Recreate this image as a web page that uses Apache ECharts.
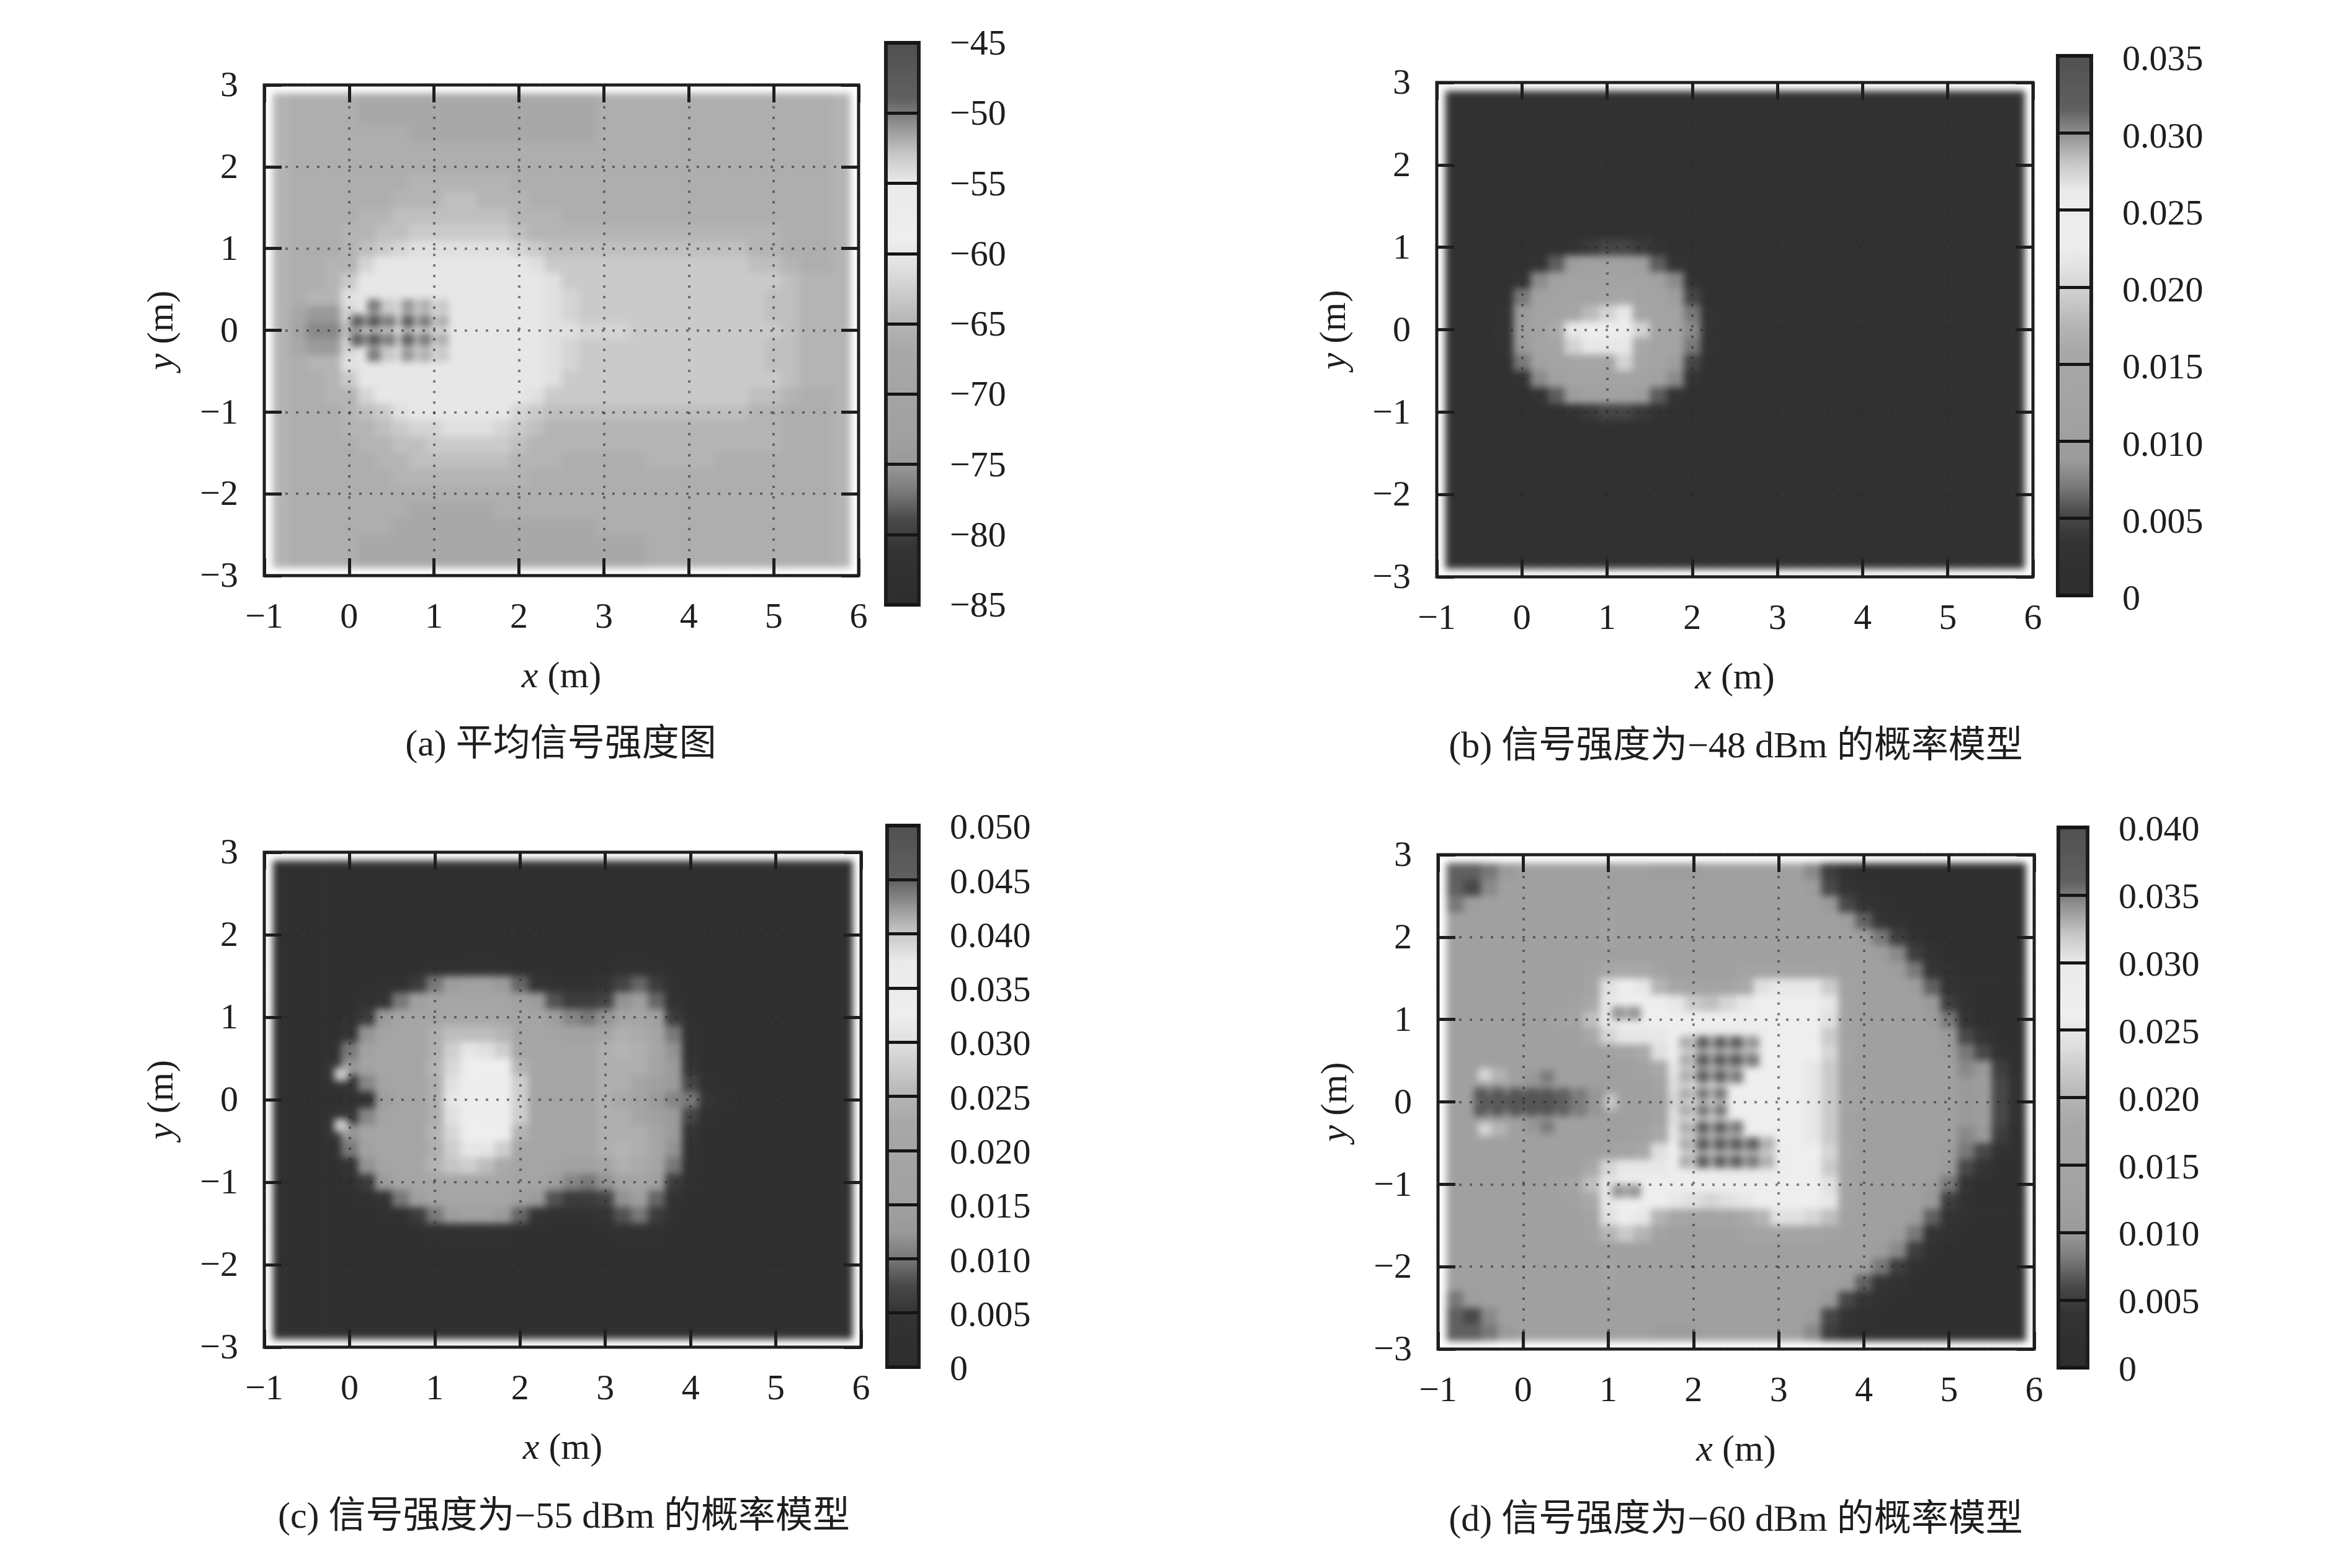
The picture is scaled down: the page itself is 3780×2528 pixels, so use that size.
<!DOCTYPE html>
<html><head><meta charset="utf-8">
<script src="https://cdn.jsdelivr.net/npm/echarts@6/dist/echarts.min.js"></script>
<style>html,body{margin:0;padding:0;background:#fff}#c{width:3780px;height:2528px}</style>
</head><body><div id="c"></div>
<script>
const xCenters = [-0.8,-0.6,-0.4,-0.2,0,0.2,0.4,0.6,0.8,1,1.2,1.4,1.6,1.8,2,2.2,2.4,2.6,2.8,3,3.2,3.4,3.6,3.8,4,4.2,4.4,4.6,4.8,5,5.2,5.4,5.6,5.8];
const yCenters = [2.8,2.6,2.4,2.2,2,1.8,1.6,1.4,1.2,1,0.8,0.6,0.4,0.2,0,-0.2,-0.4,-0.6,-0.8,-1,-1.2,-1.4,-1.6,-1.8,-2,-2.2,-2.4,-2.6,-2.8];

// (a) mean signal strength, dBm
const avgRows = [
[-65,-66,-66,-66,-66,-67,-67,-67,-67,-67,-67,-67,-67,-67,-67,-67,-67,-67,-67,-66,-66,-66,-66,-66,-66,-66,-66,-66,-66,-66,-66,-66,-66,-65],
[-65,-66,-66,-66,-66,-67,-67,-67,-67,-67,-67,-67,-67,-67,-67,-67,-67,-67,-67,-66,-66,-66,-66,-66,-66,-66,-66,-66,-66,-66,-66,-66,-66,-65],
[-65,-66,-66,-66,-66,-66,-66,-66,-67,-67,-67,-67,-67,-67,-67,-67,-67,-67,-67,-66,-66,-66,-66,-66,-66,-66,-66,-66,-66,-66,-66,-66,-66,-65],
[-65,-66,-66,-66,-66,-66,-66,-66,-66,-66,-66,-66,-66,-66,-66,-66,-66,-66,-66,-66,-66,-66,-66,-66,-66,-66,-66,-66,-66,-66,-66,-66,-66,-65],
[-65,-66,-66,-66,-66,-66,-66,-66,-66,-66,-66,-66,-66,-66,-66,-66,-66,-66,-66,-66,-66,-66,-66,-66,-66,-66,-66,-66,-66,-66,-66,-66,-66,-65],
[-65,-66,-66,-66,-66,-66,-66,-66,-65,-65,-65,-65,-65,-65,-66,-66,-66,-66,-66,-66,-66,-66,-66,-66,-66,-66,-66,-66,-66,-66,-66,-66,-66,-65],
[-65,-66,-66,-66,-66,-66,-66,-65,-65,-65,-64,-64,-65,-65,-65,-66,-66,-66,-66,-66,-66,-66,-66,-66,-66,-66,-66,-66,-66,-66,-66,-66,-66,-65],
[-65,-66,-66,-66,-66,-65,-65,-64,-64,-64,-64,-64,-64,-64,-65,-65,-65,-66,-66,-66,-66,-66,-66,-66,-66,-66,-66,-66,-66,-66,-66,-66,-66,-65],
[-65,-66,-66,-66,-65,-65,-64,-64,-63,-63,-63,-63,-63,-63,-64,-65,-65,-65,-65,-65,-65,-65,-65,-65,-65,-65,-65,-65,-65,-65,-66,-66,-66,-65],
[-65,-66,-66,-66,-65,-64,-63,-62,-61,-61,-61,-61,-61,-61,-62,-63,-64,-64,-64,-64,-64,-64,-64,-64,-64,-64,-64,-64,-65,-65,-66,-66,-66,-65],
[-65,-66,-66,-65,-65,-62,-60,-60,-60,-60,-60,-60,-60,-60,-60,-61,-63,-63,-63,-63,-63,-63,-63,-63,-63,-63,-63,-63,-64,-64,-65,-66,-66,-65],
[-65,-66,-66,-65,-63,-60,-60,-60,-60,-60,-60,-60,-60,-60,-60,-60,-61,-63,-63,-63,-63,-63,-63,-63,-63,-63,-63,-63,-63,-63,-64,-65,-65,-65],
[-65,-66,-65,-65,-61,-60,-60,-60,-60,-60,-60,-60,-60,-60,-60,-60,-61,-62,-63,-63,-63,-63,-63,-63,-63,-63,-63,-63,-63,-64,-64,-65,-65,-65],
[-65,-68,-75,-75,-62,-60,-60,-60,-60,-60,-60,-60,-60,-60,-60,-60,-61,-62,-63,-63,-63,-63,-63,-63,-63,-63,-63,-63,-63,-64,-64,-65,-65,-65],
[-65,-70,-76,-76,-64,-60,-60,-60,-60,-60,-60,-60,-60,-60,-60,-60,-61,-61,-62,-62,-62,-63,-63,-63,-63,-63,-63,-63,-63,-63,-64,-65,-65,-65],
[-65,-68,-75,-75,-62,-60,-60,-60,-60,-60,-60,-60,-60,-60,-60,-60,-61,-62,-63,-63,-63,-63,-63,-63,-63,-63,-63,-63,-63,-64,-64,-65,-65,-65],
[-65,-66,-65,-65,-61,-60,-60,-60,-60,-60,-60,-60,-60,-60,-60,-60,-61,-62,-63,-63,-63,-63,-63,-63,-63,-63,-63,-63,-63,-64,-64,-65,-65,-65],
[-65,-66,-66,-65,-63,-60,-60,-60,-60,-60,-60,-60,-60,-60,-60,-60,-61,-63,-63,-63,-63,-63,-63,-63,-63,-63,-63,-63,-63,-63,-64,-65,-65,-65],
[-65,-66,-66,-65,-65,-62,-60,-60,-60,-60,-60,-60,-60,-60,-60,-61,-63,-63,-63,-63,-63,-63,-63,-63,-63,-63,-63,-63,-64,-64,-65,-66,-66,-65],
[-65,-66,-66,-66,-65,-64,-63,-61,-60,-60,-60,-60,-60,-60,-62,-63,-64,-64,-64,-64,-64,-64,-64,-64,-64,-64,-64,-64,-65,-65,-66,-66,-66,-65],
[-65,-66,-66,-66,-65,-65,-64,-63,-62,-62,-61,-61,-61,-62,-63,-64,-65,-65,-65,-65,-65,-65,-65,-65,-65,-65,-65,-65,-65,-65,-66,-66,-66,-65],
[-65,-66,-66,-66,-66,-65,-65,-64,-64,-63,-63,-63,-63,-63,-64,-65,-65,-65,-65,-65,-65,-65,-65,-65,-65,-65,-65,-65,-65,-65,-66,-66,-66,-65],
[-65,-66,-66,-66,-66,-66,-65,-65,-64,-64,-64,-64,-64,-64,-65,-65,-65,-66,-66,-66,-66,-66,-65,-65,-65,-65,-66,-66,-66,-66,-66,-66,-66,-65],
[-65,-66,-66,-66,-66,-66,-66,-65,-65,-65,-65,-65,-65,-65,-65,-66,-66,-66,-66,-66,-66,-66,-66,-66,-66,-66,-66,-66,-66,-66,-66,-66,-66,-65],
[-65,-66,-66,-66,-66,-66,-66,-66,-66,-66,-66,-66,-66,-66,-66,-66,-66,-66,-66,-66,-66,-66,-66,-66,-66,-66,-66,-66,-66,-66,-66,-66,-66,-65],
[-65,-66,-66,-66,-66,-66,-66,-66,-67,-67,-67,-67,-67,-66,-66,-66,-66,-66,-66,-66,-66,-66,-66,-66,-66,-66,-66,-66,-66,-66,-66,-66,-66,-65],
[-65,-66,-66,-66,-66,-66,-66,-67,-67,-67,-67,-67,-67,-67,-67,-67,-67,-67,-67,-66,-66,-66,-66,-66,-66,-66,-66,-66,-66,-66,-66,-66,-66,-65],
[-65,-66,-66,-66,-66,-67,-67,-67,-67,-67,-67,-67,-67,-67,-67,-67,-67,-67,-67,-67,-67,-67,-66,-66,-66,-66,-66,-66,-66,-66,-66,-66,-66,-65],
[-65,-66,-66,-66,-66,-67,-67,-67,-67,-67,-67,-67,-67,-67,-67,-67,-67,-67,-67,-67,-67,-67,-66,-66,-66,-66,-66,-66,-66,-66,-66,-66,-66,-65]
];
const avgSpots = [
[0.1,0.11,-49],[0.1,-0.11,-49],
[0.29,0.3,-50],[0.29,0.11,-47],[0.29,-0.11,-47],[0.29,-0.3,-50],
[0.47,0.3,-53],[0.47,0.11,-50],[0.47,-0.11,-50],[0.47,-0.3,-53],
[0.69,0.3,-51],[0.69,0.11,-49],[0.69,-0.11,-49],[0.69,-0.3,-51],
[0.89,0.3,-52],[0.89,0.11,-50],[0.89,-0.11,-50],[0.89,-0.3,-52],
[1.09,0.3,-53],[1.09,0.11,-52],[1.09,-0.11,-52],[1.09,-0.3,-53]
];

// (b) probability at -48 dBm, in units of 0.001
const p48Rows = [
[2,2,2,2,2,2,2,2,2,2,2,2,2,2,2,2,2,2,2,2,2,2,2,2,2,2,2,2,2,2,2,2,2,2],
[2,2,2,2,2,2,2,2,2,2,2,2,2,2,2,2,2,2,2,2,2,2,2,2,2,2,2,2,2,2,2,2,2,2],
[2,2,2,2,2,2,2,2,2,2,2,2,2,2,2,2,2,2,2,2,2,2,2,2,2,2,2,2,2,2,2,2,2,2],
[2,2,2,2,2,2,2,2,2,2,2,2,2,2,2,2,2,2,2,2,2,2,2,2,2,2,2,2,2,2,2,2,2,2],
[2,2,2,2,2,2,2,2,2,2,2,2,2,2,2,2,2,2,2,2,2,2,2,2,2,2,2,2,2,2,2,2,2,2],
[2,2,2,2,2,2,2,2,2,2,2,2,2,2,2,2,2,2,2,2,2,2,2,2,2,2,2,2,2,2,2,2,2,2],
[2,2,2,2,2,2,2,2,2,2,2,2,2,2,2,2,2,2,2,2,2,2,2,2,2,2,2,2,2,2,2,2,2,2],
[2,2,2,2,2,2,2,2,2,2,2,2,2,2,2,2,2,2,2,2,2,2,2,2,2,2,2,2,2,2,2,2,2,2],
[2,2,2,2,2,2,2,2,2,2,2,2,2,2,2,2,2,2,2,2,2,2,2,2,2,2,2,2,2,2,2,2,2,2],
[2,2,2,2,2,2,2,3,4,5,5,4,3,2,2,2,2,2,2,2,2,2,2,2,2,2,2,2,2,2,2,2,2,2],
[2,2,2,2,2,3,6,10,11,11,11,10,6,3,2,2,2,2,2,2,2,2,2,2,2,2,2,2,2,2,2,2,2,2],
[2,2,2,2,3,8,11,12,12,12,12,12,11,8,3,2,2,2,2,2,2,2,2,2,2,2,2,2,2,2,2,2,2,2],
[2,2,2,2,7,11,12,12,12,13,15,12,12,10,5,2,2,2,2,2,2,2,2,2,2,2,2,2,2,2,2,2,2,2],
[2,2,2,3,9,12,12,14,18,20,22,14,12,12,7,3,2,2,2,2,2,2,2,2,2,2,2,2,2,2,2,2,2,2],
[2,2,2,3,10,12,16,22,23,23,24,20,13,12,8,3,2,2,2,2,2,2,2,2,2,2,2,2,2,2,2,2,2,2],
[2,2,2,3,9,12,14,20,22,22,22,15,12,12,7,3,2,2,2,2,2,2,2,2,2,2,2,2,2,2,2,2,2,2],
[2,2,2,2,7,11,12,13,14,14,20,14,12,10,5,2,2,2,2,2,2,2,2,2,2,2,2,2,2,2,2,2,2,2],
[2,2,2,2,3,8,11,12,12,12,12,12,11,8,3,2,2,2,2,2,2,2,2,2,2,2,2,2,2,2,2,2,2,2],
[2,2,2,2,2,3,6,10,11,11,11,10,6,3,2,2,2,2,2,2,2,2,2,2,2,2,2,2,2,2,2,2,2,2],
[2,2,2,2,2,2,2,3,4,5,5,4,3,2,2,2,2,2,2,2,2,2,2,2,2,2,2,2,2,2,2,2,2,2],
[2,2,2,2,2,2,2,2,2,2,2,2,2,2,2,2,2,2,2,2,2,2,2,2,2,2,2,2,2,2,2,2,2,2],
[2,2,2,2,2,2,2,2,2,2,2,2,2,2,2,2,2,2,2,2,2,2,2,2,2,2,2,2,2,2,2,2,2,2],
[2,2,2,2,2,2,2,2,2,2,2,2,2,2,2,2,2,2,2,2,2,2,2,2,2,2,2,2,2,2,2,2,2,2],
[2,2,2,2,2,2,2,2,2,2,2,2,2,2,2,2,2,2,2,2,2,2,2,2,2,2,2,2,2,2,2,2,2,2],
[2,2,2,2,2,2,2,2,2,2,2,2,2,2,2,2,2,2,2,2,2,2,2,2,2,2,2,2,2,2,2,2,2,2],
[2,2,2,2,2,2,2,2,2,2,2,2,2,2,2,2,2,2,2,2,2,2,2,2,2,2,2,2,2,2,2,2,2,2],
[2,2,2,2,2,2,2,2,2,2,2,2,2,2,2,2,2,2,2,2,2,2,2,2,2,2,2,2,2,2,2,2,2,2],
[2,2,2,2,2,2,2,2,2,2,2,2,2,2,2,2,2,2,2,2,2,2,2,2,2,2,2,2,2,2,2,2,2,2],
[2,2,2,2,2,2,2,2,2,2,2,2,2,2,2,2,2,2,2,2,2,2,2,2,2,2,2,2,2,2,2,2,2,2]
];
const p48Spots = [];

// (c) probability at -55 dBm, in units of 0.001
const p55Rows = [
[2,2,2,2,2,2,2,2,2,2,2,2,2,2,2,2,2,2,2,2,2,2,2,2,2,2,2,2,2,2,2,2,2,2],
[2,2,2,2,2,2,2,2,2,2,2,2,2,2,2,2,2,2,2,2,2,2,2,2,2,2,2,2,2,2,2,2,2,2],
[2,2,2,2,2,2,2,2,2,2,2,2,2,2,2,2,2,2,2,2,2,2,2,2,2,2,2,2,2,2,2,2,2,2],
[2,2,2,2,2,2,2,2,2,2,2,2,2,2,2,2,2,2,2,2,2,2,2,2,2,2,2,2,2,2,2,2,2,2],
[2,2,2,2,2,2,2,2,2,2,2,2,2,2,2,2,2,2,2,2,2,2,2,2,2,2,2,2,2,2,2,2,2,2],
[2,2,2,2,2,2,2,2,2,2,2,2,2,2,2,2,2,2,2,2,2,2,2,2,2,2,2,2,2,2,2,2,2,2],
[2,2,2,2,2,2,2,2,2,3,3,4,4,3,2,2,2,2,2,2,4,4,3,2,2,2,2,2,2,2,2,2,2,2],
[2,2,2,2,2,2,3,3,6,10,14,16,16,13,9,5,4,4,4,5,7,9,6,3,2,2,2,2,2,2,2,2,2,2],
[2,2,2,2,2,3,5,10,15,19,20,20,20,20,16,13,8,6,6,7,12,14,9,4,2,2,2,2,2,2,2,2,2,2],
[2,2,2,2,3,6,13,19,20,20,22,22,22,21,20,19,14,11,10,12,18,20,15,6,3,2,2,2,2,2,2,2,2,2],
[2,2,2,2,5,12,19,20,20,24,26,26,26,25,20,20,19,17,16,20,24,23,19,10,3,2,2,2,2,2,2,2,2,2],
[2,2,2,3,10,17,20,20,20,24,28,31,30,28,21,20,20,20,20,24,25,24,21,12,3,2,2,2,2,2,2,2,2,2],
[2,2,2,5,12,18,20,20,20,25,29,33,33,33,25,20,20,20,20,24,24,24,19,13,5,2,2,2,2,2,2,2,2,2],
[2,2,2,4,5,11,18,20,20,24,30,33,34,34,28,20,20,20,20,24,24,20,15,13,7,3,2,2,2,2,2,2,2,2],
[2,2,2,2,3,4,14,20,20,24,31,34,34,34,28,20,20,20,20,24,22,18,13,11,10,5,3,2,2,2,2,2,2,2],
[2,2,2,4,5,11,18,20,20,24,30,33,34,34,28,20,20,20,20,24,24,20,15,13,7,3,2,2,2,2,2,2,2,2],
[2,2,2,5,12,18,20,20,20,25,29,33,33,33,25,20,20,20,20,24,24,24,19,13,5,2,2,2,2,2,2,2,2,2],
[2,2,2,3,10,17,20,20,20,24,28,31,31,28,21,20,20,20,20,24,25,24,21,12,3,2,2,2,2,2,2,2,2,2],
[2,2,2,2,5,12,19,20,21,25,27,28,26,23,20,20,19,17,16,20,24,23,19,10,3,2,2,2,2,2,2,2,2,2],
[2,2,2,2,3,6,13,19,20,20,22,22,22,21,20,19,14,11,10,12,18,20,15,6,3,2,2,2,2,2,2,2,2,2],
[2,2,2,2,2,3,5,10,15,19,20,20,20,20,16,13,8,6,6,7,12,14,9,4,2,2,2,2,2,2,2,2,2,2],
[2,2,2,2,2,2,3,3,6,10,14,16,16,13,9,5,4,4,4,5,8,10,6,3,2,2,2,2,2,2,2,2,2,2],
[2,2,2,2,2,2,2,2,2,3,3,4,4,3,2,2,2,2,2,2,4,4,3,2,2,2,2,2,2,2,2,2,2,2],
[2,2,2,2,2,2,2,2,2,2,2,2,2,2,2,2,2,2,2,2,2,2,2,2,2,2,2,2,2,2,2,2,2,2],
[2,2,2,2,2,2,2,2,2,2,2,2,2,2,2,2,2,2,2,2,2,2,2,2,2,2,2,2,2,2,2,2,2,2],
[2,2,2,2,2,2,2,2,2,2,2,2,2,2,2,2,2,2,2,2,2,2,2,2,2,2,2,2,2,2,2,2,2,2],
[2,2,2,2,2,2,2,2,2,2,2,2,2,2,2,2,2,2,2,2,2,2,2,2,2,2,2,2,2,2,2,2,2,2],
[2,2,2,2,2,2,2,2,2,2,2,2,2,2,2,2,2,2,2,2,2,2,2,2,2,2,2,2,2,2,2,2,2,2],
[2,2,2,2,2,2,2,2,2,2,2,2,2,2,2,2,2,2,2,2,2,2,2,2,2,2,2,2,2,2,2,2,2,2]
];
const p55Spots = [[-0.1,0.31,27],[-0.1,-0.31,27]];

// (d) probability at -60 dBm, in units of 0.001
const p60Rows = [
[7,7,8,10,12,12,12,12,12,12,12,12,11,11,11,12,12,12,12,12,12,9,5,3,2,2,2,2,2,2,2,2,2,2],
[7,6,9,12,12,12,12,12,12,12,12,12,12,12,12,12,12,12,12,12,12,11,6,4,3,2,2,2,2,2,2,2,2,2],
[8,11,12,12,12,12,12,12,12,13,12,12,12,12,12,12,12,12,12,12,12,12,10,6,4,3,2,2,2,2,2,2,2,2],
[12,12,12,12,12,12,12,12,12,13,12,12,12,12,12,12,12,12,12,12,12,12,12,11,7,4,3,2,2,2,2,2,2,2],
[12,12,12,12,12,12,12,12,12,14,12,12,12,12,12,12,12,12,12,12,12,12,12,12,11,8,5,3,2,2,2,2,2,2],
[12,12,12,12,12,12,12,12,12,12,12,12,12,12,12,12,12,12,12,12,12,12,12,12,12,11,9,5,3,2,2,2,2,2],
[12,12,12,12,12,12,12,12,13,17,18,17,13,12,12,12,12,14,14,14,14,14,13,12,12,12,11,8,4,3,2,2,2,2],
[12,12,12,12,12,12,12,12,14,24,26,25,20,16,14,14,14,18,24,25,25,25,22,13,12,12,12,11,7,4,3,2,2,2],
[12,12,12,12,12,12,12,13,18,25,26,26,26,25,22,21,23,25,26,26,26,26,25,14,12,12,12,12,10,5,3,2,2,2],
[12,12,12,12,12,12,13,15,21,25,26,26,26,26,26,26,26,26,26,26,26,26,24,14,12,12,12,12,11,8,4,2,2,2],
[12,12,12,12,12,12,12,12,18,23,25,25,25,26,29,30,30,29,27,26,26,26,22,14,12,12,12,12,12,10,6,4,2,2],
[12,12,12,12,12,12,12,12,12,13,15,18,24,26,31,31,31,31,27,26,26,26,23,15,12,12,12,12,12,11,8,6,3,2],
[12,12,12,12,12,12,12,12,12,12,12,13,17,25,31,31,31,27,26,26,26,25,22,14,12,12,12,12,12,12,9,10,5,2],
[12,12,12,12,12,12,12,12,12,12,12,12,14,24,30,30,27,26,26,26,26,25,22,14,12,12,12,12,12,12,10,11,6,3],
[12,12,36,37,38,38,38,35,34,32,12,12,13,23,29,29,26,26,26,26,26,25,22,14,13,12,12,12,12,12,10,11,6,3],
[12,12,12,12,12,12,12,12,12,12,12,12,14,24,30,30,27,26,26,26,26,25,22,14,12,12,12,12,12,12,10,11,6,3],
[12,12,12,12,12,12,12,12,12,12,12,13,17,25,31,31,31,27,26,26,26,25,22,14,12,12,12,12,12,12,9,10,5,2],
[12,12,12,12,12,12,12,12,12,13,15,18,24,26,31,31,31,31,31,27,26,26,23,15,12,12,12,12,12,11,8,6,3,2],
[12,12,12,12,12,12,12,12,18,23,25,25,25,26,30,30,30,30,30,27,26,26,22,14,12,12,12,12,12,10,6,4,2,2],
[12,12,12,12,12,12,13,15,21,25,26,26,26,26,26,26,26,26,26,26,26,26,24,14,12,12,12,12,11,8,4,2,2,2],
[12,12,12,12,12,12,12,13,18,25,26,26,26,25,24,23,24,25,26,26,26,26,25,14,12,12,12,12,10,5,3,2,2,2],
[12,12,12,12,12,12,12,12,14,24,26,25,20,16,15,14,15,18,20,24,24,23,21,13,12,12,12,11,7,4,3,2,2,2],
[12,12,12,12,12,12,12,12,13,20,22,20,13,12,12,12,12,14,15,15,15,15,13,12,12,12,11,8,4,3,2,2,2,2],
[12,12,12,12,12,12,12,12,12,12,12,12,12,12,12,12,12,12,12,12,12,12,12,12,12,11,9,5,3,2,2,2,2,2],
[12,12,12,12,12,12,12,12,12,14,12,12,12,12,12,12,12,12,12,12,12,12,12,12,11,8,5,3,2,2,2,2,2,2],
[12,12,12,12,12,12,12,12,12,13,12,12,12,12,12,12,12,12,12,12,12,12,12,11,7,4,3,2,2,2,2,2,2,2],
[8,11,12,12,12,12,12,12,12,12,12,12,12,12,12,12,12,12,12,12,12,12,10,6,4,3,2,2,2,2,2,2,2,2],
[7,6,9,12,12,12,12,12,12,12,12,12,12,12,12,12,12,12,12,12,12,11,6,4,3,2,2,2,2,2,2,2,2,2],
[7,7,8,10,12,12,12,12,12,12,12,12,11,11,11,12,12,12,12,12,12,9,5,3,2,2,2,2,2,2,2,2,2,2]
];
const p60Spots = [
[-0.5,0.09,38],[-0.3,0.09,38],[-0.09,0.09,39],[0.1,0.09,39],[0.28,0.09,39],[0.47,0.09,36],[0.67,0.09,35],[0.87,0.09,34],
[-0.5,-0.09,38],[-0.3,-0.09,38],[-0.09,-0.09,39],[0.1,-0.09,39],[0.28,-0.09,39],[0.47,-0.09,36],[0.67,-0.09,35],[0.87,-0.09,34],
[0.1,0.28,34],[0.28,0.3,35],[0.1,-0.28,34],[0.28,-0.3,35],
[-0.45,0.33,23],[-0.27,0.33,20],[-0.45,-0.33,23],[-0.27,-0.33,20],
[1.91,0.72,33],[2.11,0.72,36],[2.31,0.72,36],[2.5,0.72,36],[2.69,0.72,34],
[1.91,0.51,33],[2.11,0.51,37],[2.31,0.51,37],[2.5,0.51,37],[2.69,0.51,35],
[1.91,0.31,33],[2.11,0.31,36],[2.31,0.31,36],[2.5,0.31,35],
[1.91,0.1,33],[2.11,0.1,35],[2.31,0.1,35],
[1.91,-0.1,33],[2.11,-0.1,35],[2.31,-0.1,35],
[1.91,-0.31,33],[2.11,-0.31,36],[2.31,-0.31,36],[2.5,-0.31,35],
[1.91,-0.51,33],[2.11,-0.51,37],[2.31,-0.51,37],[2.5,-0.51,37],[2.69,-0.51,36],[2.87,-0.51,33],
[1.91,-0.72,33],[2.11,-0.72,36],[2.31,-0.72,36],[2.5,-0.72,36],[2.69,-0.72,35],[2.87,-0.72,33],
[1.12,1.08,34],[1.3,1.08,34],[1.12,-1.08,34],[1.3,-1.08,34]
];

const grayRamp = ['#2e2e2e','#303030','#343434','#484848','#787878','#9a9a9a','#a0a0a0','#a3a3a3','#a5a5a5','#a8a8a8','#b4b4b4','#cacaca','#e0e0e0','#eeeeee','#ececec','#eaeaea','#c8c8c8','#969696','#606060','#585858','#505050'];
const captions = ['(a) 平均信号强度图','(b) 信号强度为−48 dBm 的概率模型','(c) 信号强度为−55 dBm 的概率模型','(d) 信号强度为−60 dBm 的概率模型'];
const barMin = [-85,0,0,0];
const barMax = [-45,0.035,0.05,0.04];
const barStep = [5,0.005,0.005,0.005];
const cellRows = [avgRows,p48Rows,p55Rows,p60Rows];
const cellScale = [1,0.001,0.001,0.001];
const spotLists = [avgSpots,p48Spots,p55Spots,p60Spots];

const layouts = [
 {l:426,t:137,w:958,h:791,bl:1428,bt:69,bw:53,bh:906,cx:904,cy:1202,drop:4},
 {l:2316,t:133,w:961,h:797,bl:3317,bt:90,bw:54,bh:870,cx:2798,cy:1205,drop:8},
 {l:426,t:1374,w:962,h:798,bl:1430,bt:1331,bw:51,bh:873,cx:909,cy:2447,drop:6},
 {l:2318,t:1378,w:961,h:797,bl:3318,bt:1334,bw:47,bh:871,cx:2798,cy:2452,drop:6}
];

const FONT = '"Liberation Serif","Noto Sans CJK SC",serif';
const INK = '#1e1e1e';
const minus = v => String(v).replace('-','−');

function cellDrawer(size){
  return function(params, api){
    const c = api.coord([api.value(0), api.value(1)]);
    const s = api.size([size, size]);
    return {type:'rect', shape:{x:c[0]-s[0]/2, y:c[1]-s[1]/2, width:s[0]+0.6, height:s[1]+0.6}, style:{fill:api.visual('color')}};
  };
}
const option = {backgroundColor:'#fff', animation:false, grid:[], xAxis:[], yAxis:[], series:[], visualMap:[],
  graphic:{elements:[]}};

layouts.forEach((L,p)=>{
  const base = p*3;
  option.grid.push({left:L.l,top:L.t,width:L.w,height:L.h,show:true,borderColor:INK,borderWidth:5,backgroundColor:'transparent',z:10,zlevel:1});
  option.grid.push({left:L.bl,top:L.bt,width:L.bw,height:L.bh,show:true,borderColor:INK,borderWidth:6,backgroundColor:'transparent',z:10,zlevel:1});
  const gridMain = p*2, gridBar = p*2+1;
  const tick = {show:true,inside:true,length:28,lineStyle:{color:INK,width:5}};
  const dots = {show:true,lineStyle:{color:'rgba(40,40,40,0.55)',width:4,type:[4,13]}};
  const common = {type:'value',gridIndex:gridMain,zlevel:1,z:11,axisLine:{show:false,onZero:false},axisTick:tick};
  const lab = {color:INK,fontFamily:FONT,fontSize:58,formatter:minus};
  const nameStyle = {color:INK,fontFamily:FONT,fontSize:60,rich:{i:{fontStyle:'italic',fontFamily:FONT,fontSize:60,color:INK}}};
  option.xAxis.push({...common,position:'bottom',min:-1,max:6,interval:1,splitLine:dots,axisLabel:{...lab,margin:40},
    name:'{i|x} (m)',nameLocation:'middle',nameGap:134,nameTextStyle:nameStyle});
  option.xAxis.push({...common,position:'top',min:-1,max:6,interval:1,splitLine:{show:false},axisLabel:{show:false}});
  option.xAxis.push({type:'value',gridIndex:gridBar,show:false,min:0,max:1});
  option.yAxis.push({...common,position:'left',min:-3,max:3,interval:1,splitLine:dots,
    axisLabel:{...lab,margin:42,verticalAlign:'top',lineHeight:6},
    name:'{i|y} (m)',nameLocation:'middle',nameGap:134,nameTextStyle:nameStyle});
  option.yAxis.push({...common,position:'right',min:-3,max:3,interval:1,splitLine:{show:false},axisLabel:{show:false}});
  const dec = barStep[p]<1?3:0;
  option.yAxis.push({type:'value',gridIndex:gridBar,position:'right',min:barMin[p],max:barMax[p],interval:barStep[p],zlevel:1,z:11,
    axisLine:{show:false,onZero:false},axisTick:{show:false},splitLine:{show:true,lineStyle:{color:'#151515',width:5}},
    axisLabel:{color:INK,fontFamily:FONT,fontSize:58,margin:50,verticalAlign:'top',lineHeight:L.drop*2,formatter:v=>v===0?'0':minus(v.toFixed(dec))}});
  const scale = cellScale[p];
  const cells = [];
  cellRows[p].forEach((row,j)=>row.forEach((v,i)=>cells.push([xCenters[i],yCenters[j],v*scale])));
  const spots = spotLists[p].map(s=>[s[0],s[1],s[2]*scale]);
  const first = option.series.length;
  option.series.push({type:'custom',coordinateSystem:'cartesian2d',xAxisIndex:base,yAxisIndex:base,zlevel:0,silent:true,
    clip:false,encode:{x:0,y:1},data:cells,renderItem:cellDrawer(0.2)});
  option.series.push({type:'custom',coordinateSystem:'cartesian2d',xAxisIndex:base,yAxisIndex:base,zlevel:0,z:3,silent:true,
    clip:false,encode:{x:0,y:1},data:spots,renderItem:cellDrawer(0.16)});
  option.visualMap.push({type:'continuous',min:barMin[p],max:barMax[p],dimension:2,seriesIndex:[first,first+1],
    inRange:{color:grayRamp},left:L.bl,top:L.bt,itemWidth:L.bw,itemHeight:L.bh,padding:0,calculable:false,hoverLink:false,
    zlevel:1,z:5,textStyle:{fontSize:1,color:'transparent'}});
  option.graphic.elements.push({type:'text',x:L.cx,y:L.cy,zlevel:1,silent:true,
    style:{text:captions[p],fill:INK,font:'60px '+FONT,textAlign:'center',textVerticalAlign:'middle'}});
});

const chart = echarts.init(document.getElementById('c'),null,{renderer:'canvas',width:3780,height:2528});
chart.setOption(option);
const layers = document.querySelectorAll('#c canvas');
if(layers.length>1){layers[0].style.filter='blur(6px)';}
</script>
</body></html>
